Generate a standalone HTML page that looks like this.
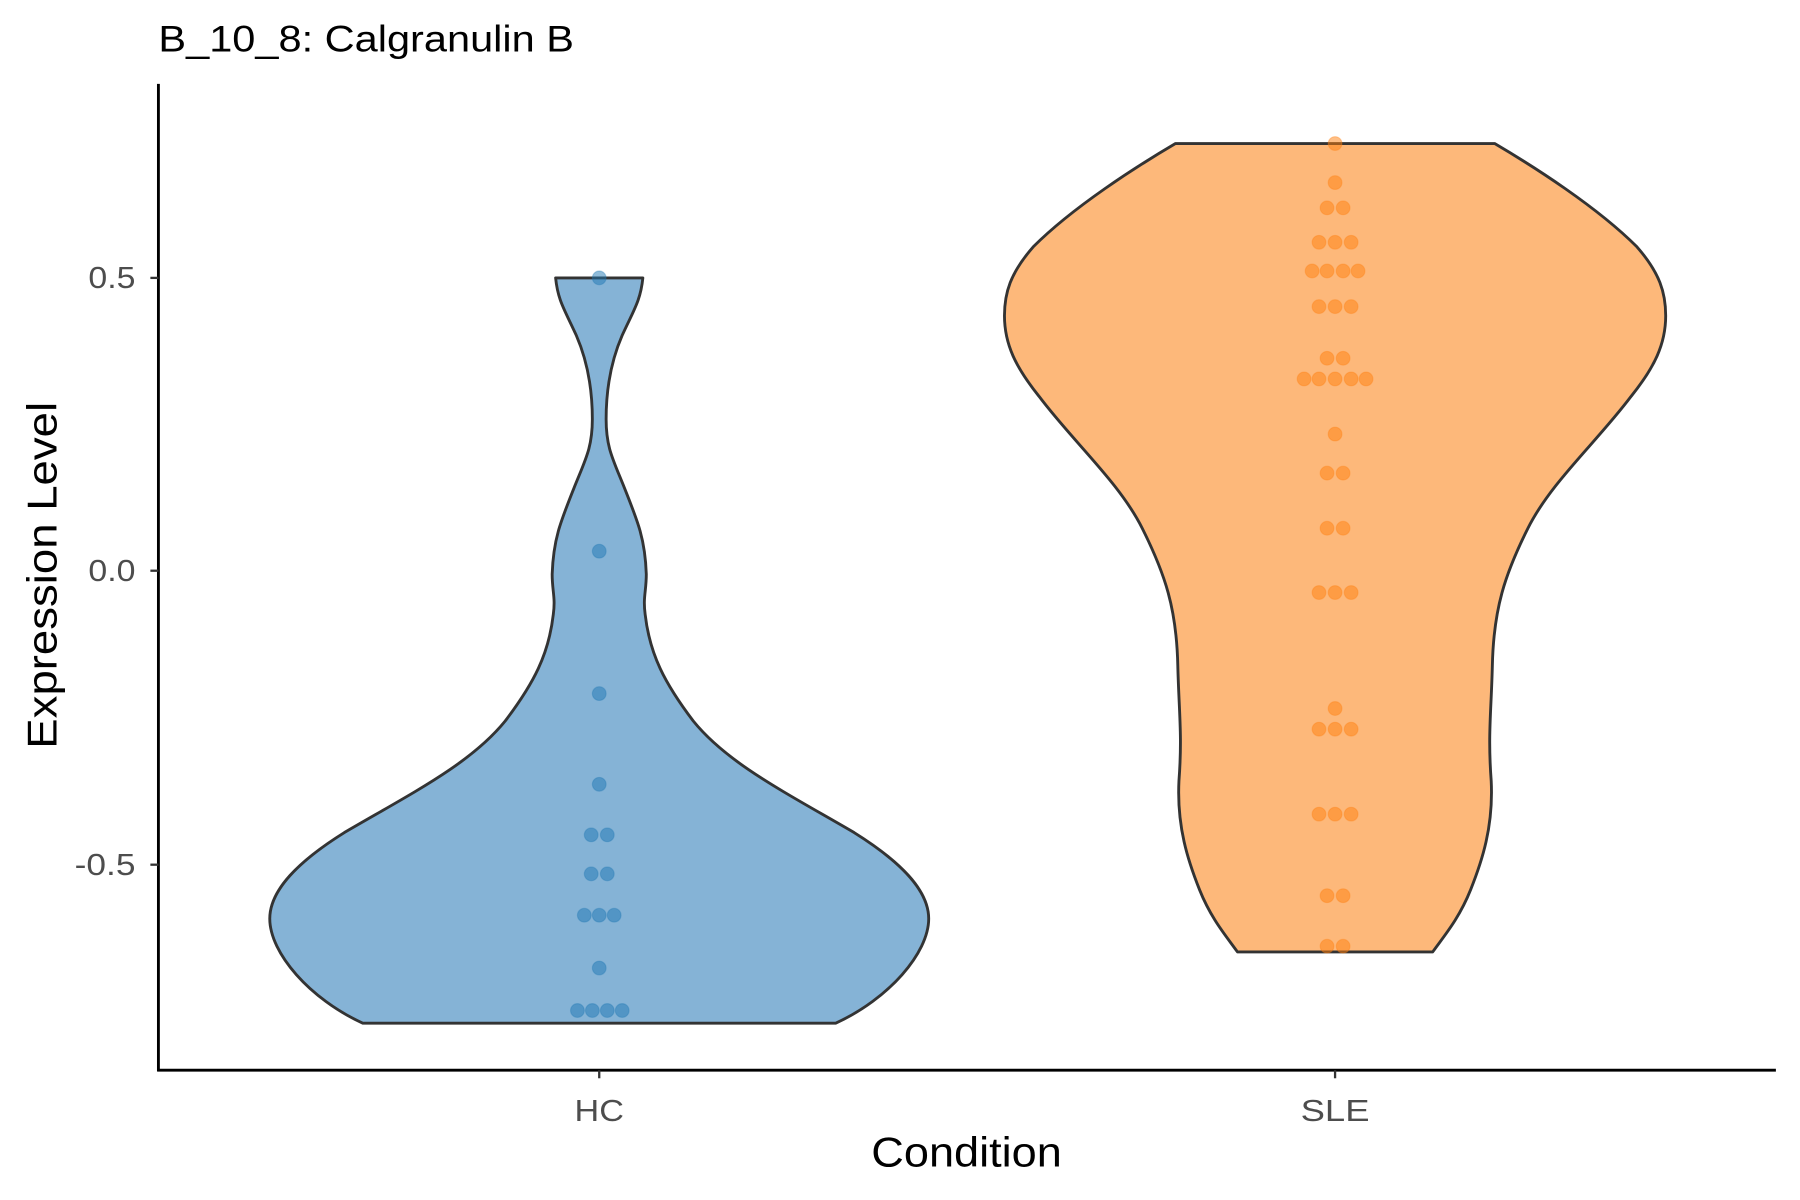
<!DOCTYPE html>
<html><head><style>html,body{margin:0;padding:0;background:#fff}svg{display:block}</style></head>
<body>
<svg width="1800" height="1200" viewBox="0 0 1568 1045" preserveAspectRatio="none" xmlns="http://www.w3.org/2000/svg" font-family="Liberation Sans, sans-serif">
<rect width="1568" height="1045" fill="#fff"/>
<text x="138" y="45" font-size="32" fill="#000" textLength="362" lengthAdjust="spacingAndGlyphs">B_10_8: Calgranulin B</text>
<!-- HC violin -->
<path d="M484,242 C486,262 492,270 502,292 C512,315 516,340 516,365 C516,390 510,400 500,425 C488,455 482,470 481,500 C481,515 484,520 482,535 C478,570 465,595 440,628 C410,665 360,690 300,725 C260,750 235,775 235,800 C235,830 270,870 316,891 L728,891 C774,870 809,830 809,800 C809,775 784,750 744,725 C684,690 634,665 604,628 C579,595 566,570 562,535 C560,520 563,515 563,500 C562,470 556,455 544,425 C534,400 528,390 528,365 C528,340 532,315 542,292 C552,270 558,262 560,242 Z" fill="#85b3d6" stroke="#333" stroke-width="2.5" stroke-linejoin="round"/>
<!-- SLE violin -->
<path d="M1024,125 C990,145 935,180 900,215 C880,238 875,255 875,275 C875,300 885,320 905,345 C935,385 975,420 995,460 C1015,500 1025,530 1026,580 C1027,620 1030,640 1027,680 C1025,720 1035,750 1045,775 C1055,800 1068,815 1078,829 L1248,829 C1258,815 1271,800 1281,775 C1291,750 1301,720 1299,680 C1296,640 1299,620 1300,580 C1301,530 1311,500 1331,460 C1351,420 1391,385 1421,345 C1441,320 1451,300 1451,275 C1451,255 1446,238 1426,215 C1391,180 1336,145 1302,125 Z" fill="#fdb87a" stroke="#333" stroke-width="2.5" stroke-linejoin="round"/>
<g fill="#1f77b4" fill-opacity="0.5" stroke="#1f77b4" stroke-opacity="0.3">
<circle cx="522" cy="242" r="6"/><circle cx="522" cy="480" r="6"/><circle cx="522" cy="604" r="6"/><circle cx="522" cy="683" r="6"/>
<circle cx="515" cy="727" r="6"/><circle cx="529" cy="727" r="6"/>
<circle cx="515" cy="761" r="6"/><circle cx="529" cy="761" r="6"/>
<circle cx="509" cy="797" r="6"/><circle cx="522" cy="797" r="6"/><circle cx="535" cy="797" r="6"/>
<circle cx="522" cy="843" r="6"/>
<circle cx="503" cy="880" r="6"/><circle cx="516" cy="880" r="6"/><circle cx="529" cy="880" r="6"/><circle cx="542" cy="880" r="6"/>
</g>
<g fill="#ff7f0e" fill-opacity="0.5" stroke="#ff7f0e" stroke-opacity="0.3">
<circle cx="1163" cy="125" r="6"/><circle cx="1163" cy="159" r="6"/>
<circle cx="1156" cy="181" r="6"/><circle cx="1170" cy="181" r="6"/>
<circle cx="1149" cy="211" r="6"/><circle cx="1163" cy="211" r="6"/><circle cx="1177" cy="211" r="6"/>
<circle cx="1143" cy="236" r="6"/><circle cx="1156" cy="236" r="6"/><circle cx="1170" cy="236" r="6"/><circle cx="1183" cy="236" r="6"/>
<circle cx="1149" cy="267" r="6"/><circle cx="1163" cy="267" r="6"/><circle cx="1177" cy="267" r="6"/>
<circle cx="1156" cy="312" r="6"/><circle cx="1170" cy="312" r="6"/>
<circle cx="1136" cy="330" r="6"/><circle cx="1149" cy="330" r="6"/><circle cx="1163" cy="330" r="6"/><circle cx="1177" cy="330" r="6"/><circle cx="1190" cy="330" r="6"/>
<circle cx="1163" cy="378" r="6"/>
<circle cx="1156" cy="412" r="6"/><circle cx="1170" cy="412" r="6"/>
<circle cx="1156" cy="460" r="6"/><circle cx="1170" cy="460" r="6"/>
<circle cx="1149" cy="516" r="6"/><circle cx="1163" cy="516" r="6"/><circle cx="1177" cy="516" r="6"/>
<circle cx="1163" cy="617" r="6"/>
<circle cx="1149" cy="635" r="6"/><circle cx="1163" cy="635" r="6"/><circle cx="1177" cy="635" r="6"/>
<circle cx="1149" cy="709" r="6"/><circle cx="1163" cy="709" r="6"/><circle cx="1177" cy="709" r="6"/>
<circle cx="1156" cy="780" r="6"/><circle cx="1170" cy="780" r="6"/>
<circle cx="1156" cy="824" r="6"/><circle cx="1170" cy="824" r="6"/>
</g>
<!-- axes -->
<line x1="138" y1="73" x2="138" y2="933" stroke="#000" stroke-width="2.5"/>
<line x1="137" y1="932" x2="1547" y2="932" stroke="#000" stroke-width="2.5"/>
<g stroke="#333" stroke-width="2">
<line x1="131" y1="242" x2="138" y2="242"/><line x1="131" y1="497" x2="138" y2="497"/><line x1="131" y1="753" x2="138" y2="753"/>
<line x1="522" y1="932" x2="522" y2="939"/><line x1="1163" y1="932" x2="1163" y2="939"/>
</g>
<g font-size="27" fill="#4d4d4d" text-anchor="end">
<text x="118" y="251" textLength="41" lengthAdjust="spacingAndGlyphs">0.5</text>
<text x="118" y="506" textLength="41" lengthAdjust="spacingAndGlyphs">0.0</text>
<text x="118" y="762" textLength="53" lengthAdjust="spacingAndGlyphs">-0.5</text>
</g>
<g font-size="27" fill="#4d4d4d" text-anchor="middle">
<text x="522" y="976" textLength="43" lengthAdjust="spacingAndGlyphs">HC</text>
<text x="1163" y="976" textLength="60" lengthAdjust="spacingAndGlyphs">SLE</text>
</g>
<text x="842" y="1016" font-size="36" text-anchor="middle" fill="#000" textLength="166" lengthAdjust="spacingAndGlyphs">Condition</text>
<text transform="translate(49,501) rotate(-90)" font-size="36" text-anchor="middle" fill="#000" textLength="302" lengthAdjust="spacingAndGlyphs">Expression Level</text>
</svg>
</body></html>
